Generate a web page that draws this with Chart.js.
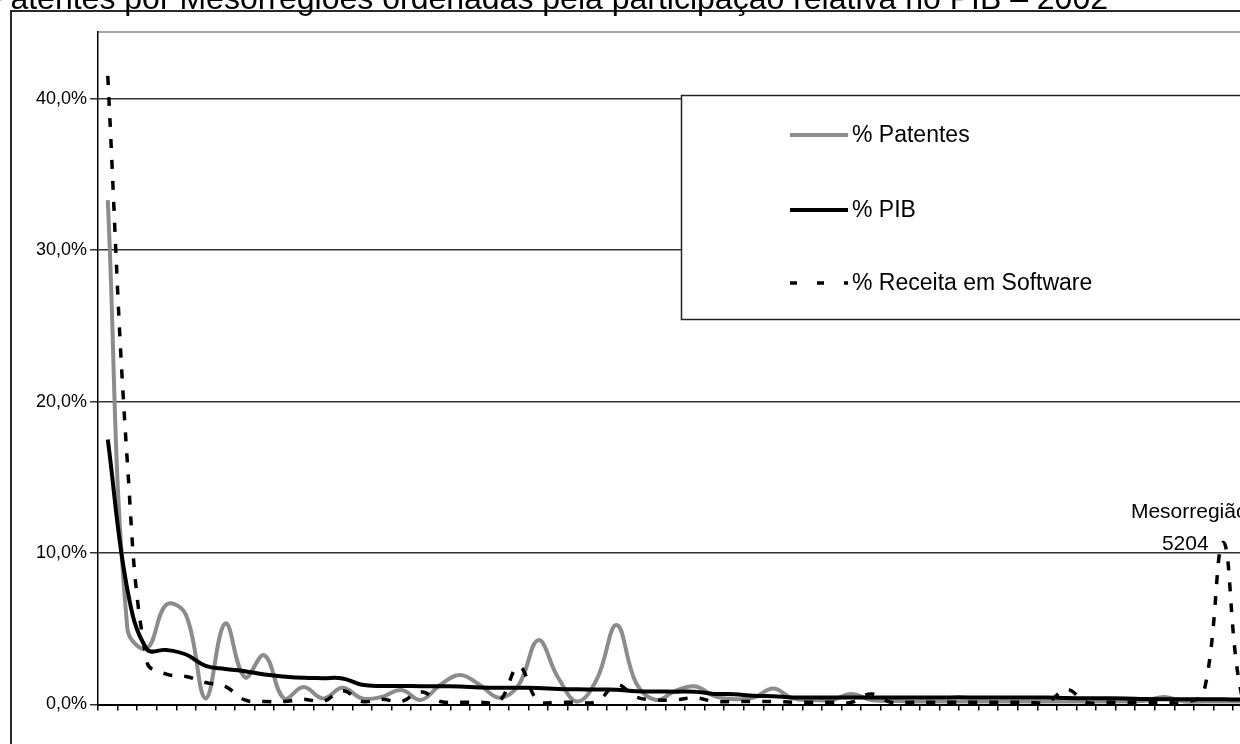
<!DOCTYPE html>
<html><head><meta charset="utf-8">
<script src="https://cdn.jsdelivr.net/npm/chart.js@4.4.1/dist/chart.umd.min.js"></script>
<style>
html,body{margin:0;padding:0;background:#fff;overflow:hidden;width:1240px;height:744px;}
#wrap{position:absolute;left:0;top:0;width:1290px;height:744px;}
canvas{display:block;}
</style></head><body>
<div id="wrap"><canvas id="c" width="1290" height="744"></canvas></div>
<script>
// Mesorregiões ordered by share of PIB (rank); index 57 = Mesorregião 5204
const categories = ['1','2','3','4','5','6','7','8','9','10','11','12','13','14','15','16','17','18','19','20',
  '21','22','23','24','25','26','27','28','29','30','31','32','33','34','35','36','37','38','39','40',
  '41','42','43','44','45','46','47','48','49','50','51','52','53','54','55','56','57','5204','59','60'];

const patentes = [33.3,5.0,3.7,6.6,5.9,0.4,5.35,1.8,3.25,0.4,
  1.15,0.4,1.1,0.4,0.5,0.95,0.3,1.3,1.95,1.3,
  0.45,1.3,4.25,1.8,0.2,1.7,5.25,1.4,0.3,0.9,
  1.2,0.55,0.35,0.45,1.05,0.4,0.3,0.3,0.7,0.3,
  0.25,0.2,0.2,0.2,0.2,0.2,0.2,0.2,0.2,0.2,
  0.2,0.2,0.2,0.25,0.5,0.2,0.2,0.2,0.2,0.2];

const pib = [17.5,7.6,3.65,3.6,3.3,2.55,2.35,2.2,1.98,1.85,
  1.76,1.74,1.72,1.3,1.22,1.22,1.21,1.2,1.19,1.12,
  1.11,1.1,1.09,1.02,1.0,0.99,0.98,0.88,0.86,0.85,
  0.84,0.7,0.68,0.57,0.55,0.47,0.47,0.47,0.47,0.47,
  0.47,0.47,0.47,0.47,0.47,0.46,0.46,0.46,0.46,0.43,
  0.41,0.41,0.4,0.36,0.35,0.35,0.34,0.34,0.33,0.33];

const software = [41.5,16,2.8,2.0,1.85,1.45,1.2,0.3,0.2,0.2,
  0.35,0.2,0.9,0.2,0.35,0.2,0.85,0.2,0.15,0.15,
  0.2,2.5,0.2,0.15,0.15,0.2,1.3,0.5,0.3,0.3,
  0.45,0.2,0.2,0.2,0.2,0.15,0.15,0.15,0.15,0.7,
  0.15,0.15,0.15,0.15,0.15,0.15,0.15,0.15,0.15,1.0,
  0.15,0.15,0.15,0.15,0.15,0.15,0.8,10.7,0.3,0.2];

const yTicks = [0,10,20,30,40];
const yMax = 44.4;
const titleText = 'Receita em Software, PIB e Patentes por Mesorregiões ordenadas pela participação relativa no PIB – 2002';
const annotationLines = ['Mesorregião','5204'];
const annotationIndex = 57;
const seriesNames = ['% Patentes','% PIB','% Receita em Software'];

const FONT = "'Liberation Sans', Arial, sans-serif";

const decorPlugin = {
  id: 'decor',
  beforeDraw(chart) {
    const ctx = chart.ctx, a = chart.chartArea;
    ctx.save();
    ctx.fillStyle = '#fff';
    ctx.fillRect(0, 0, chart.width, chart.height);
    ctx.strokeStyle = '#2a2a2a';
    ctx.lineWidth = 2;
    ctx.strokeRect(11, 11, 3000, 3000);
    ctx.strokeStyle = '#a6a6a6';
    ctx.lineWidth = 2;
    ctx.beginPath();
    ctx.moveTo(a.left, a.top);
    ctx.lineTo(a.right + 20, a.top);
    ctx.stroke();
    ctx.restore();
  },
  afterDraw(chart) {
    const ctx = chart.ctx;
    const xs = chart.scales.x, ys = chart.scales.y;
    ctx.save();
    // title (partly cut at the top of the picture)
    ctx.fillStyle = '#000';
    ctx.font = '32px ' + FONT;
    ctx.textAlign = 'right';
    ctx.textBaseline = 'alphabetic';
    ctx.fillText(titleText, 1108, 9);

    // annotation
    const px = xs.getPixelForValue(annotationIndex);
    const py = ys.getPixelForValue(software[annotationIndex]);
    ctx.font = '21px ' + FONT;
    ctx.textAlign = 'center';
    ctx.fillText(annotationLines[0], px - 34, py - 24);
    ctx.fillText(annotationLines[1], px - 38, py + 8);

    // legend
    const L = {x: 681.5, y: 95.5, w: 700, h: 224};
    ctx.fillStyle = '#fff';
    ctx.fillRect(L.x, L.y, L.w, L.h);
    ctx.strokeStyle = '#222';
    ctx.lineWidth = 1.5;
    ctx.strokeRect(L.x, L.y, L.w, L.h);
    const rows = [135, 210, 283];
    [0, 1, 2].forEach((di, k) => {
      const ds = chart.data.datasets[di];
      const y = rows[k];
      ctx.save();
      ctx.strokeStyle = ds.borderColor;
      ctx.lineWidth = ds.legendWidth;
      ctx.setLineDash(ds.legendDash);
      ctx.lineCap = 'butt';
      ctx.beginPath();
      ctx.moveTo(790, y);
      ctx.lineTo(848, y);
      ctx.stroke();
      ctx.restore();
      ctx.fillStyle = '#000';
      ctx.font = '23px ' + FONT;
      ctx.textAlign = 'left';
      ctx.textBaseline = 'middle';
      ctx.fillText(ds.label, 852, y + 1);
    });
    ctx.restore();
  }
};

new Chart(document.getElementById('c'), {
  type: 'line',
  data: {
    labels: categories,
    datasets: [
      {label: seriesNames[0], data: patentes, borderColor: '#8c8c8c', borderWidth: 4, tension: 0.4,
       pointRadius: 0, order: 2, legendWidth: 4, legendDash: []},
      {label: seriesNames[1], data: pib, borderColor: '#000000', borderWidth: 4, tension: 0.4,
       pointRadius: 0, order: 1, legendWidth: 4, legendDash: []},
      {label: seriesNames[2], data: software, borderColor: '#000000', borderWidth: 3.5, tension: 0.4,
       borderDash: [9, 12], pointRadius: 0, order: 0, legendWidth: 3.5, legendDash: [7, 20]}
    ]
  },
  options: {
    responsive: false,
    animation: false,
    devicePixelRatio: 1,
    layout: {padding: {left: 0, top: 32, right: 17.8, bottom: 0}},
    plugins: {legend: {display: false}, title: {display: false}, tooltip: {enabled: false}},
    scales: {
      x: {
        type: 'category',
        offset: true,
        afterFit(s) { s.height = 39.5; },
        ticks: {display: false},
        grid: {display: true, offset: true, drawOnChartArea: false, drawTicks: true, tickLength: 6,
               color: '#000', lineWidth: 1.5},
        border: {display: true, color: '#000', width: 2}
      },
      y: {
        min: 0, max: yMax,
        afterFit(s) { s.width = 98; },
        afterBuildTicks(s) { s.ticks = yTicks.map(v => ({value: v})); },
        ticks: {
          padding: 3,
          color: '#000',
          font: {family: FONT, size: 18},
          callback: v => v.toFixed(1).replace('.', ',') + '%'
        },
        grid: {color: '#333', lineWidth: 1.5, tickLength: 8, drawTicks: true},
        border: {display: true, color: '#000', width: 1.5}
      }
    }
  },
  plugins: [decorPlugin]
});
</script>
</body></html>
